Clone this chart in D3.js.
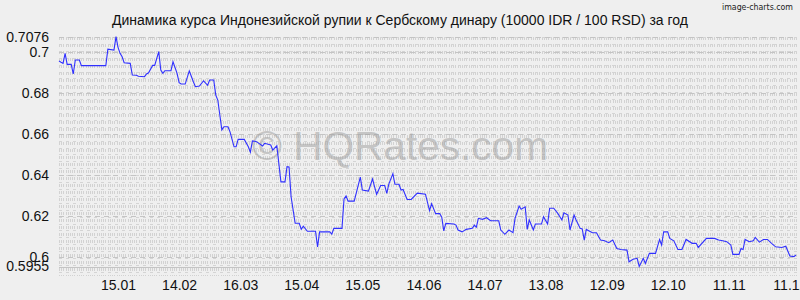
<!DOCTYPE html>
<html><head><meta charset="utf-8">
<script src="https://cdn.jsdelivr.net/npm/d3@7/dist/d3.min.js"></script>
<style>body{margin:0;background:#efefef;}svg{display:block;}</style>
</head><body>
<svg id="chart" width="800" height="300"></svg>
<script>
const titleText = "Динамика курса Индонезийской рупии к Сербскому динару (10000 IDR / 100 RSD) за год";
const startDate = new Date(2022, 11, 17);
const dayOffsets = [0,1,2,3,4,6,7,8,10,11,23,24,27,28,29,30,31,32,35,36,38,39,42,43,44,46,47,49,50,51,52,55,56,58,59,60,62,64,66,67,69,71,73,74,76,77,78,80,81,83,84,86,87,88,91,93,94,95,97,100,101,104,105,107,109,111,112,113,114,116,118,119,120,122,126,127,128,133,134,135,139,140,141,142,145,148,149,152,154,156,158,160,161,162,164,165,167,168,169,171,173,176,180,182,183,185,187,188,189,190,194,195,196,198,200,203,204,205,206,208,210,212,216,217,219,221,223,224,226,227,229,230,231,233,234,237,238,240,241,243,245,247,248,250,251,253,254,256,257,258,259,262,264,266,268,270,272,274,276,279,280,282,284,285,287,288,290,293,295,296,297,299,300,302,304,306,308,311,313,314,318,322,324,326,328,330,331,334,335,336,337,339,341,342,344,346,348,350,352,355,357,359,361,362];
const rates = [0.6957,0.6951,0.6946,0.6995,0.6941,0.6941,0.6894,0.6962,0.6962,0.6935,0.6935,0.7015,0.7011,0.7076,0.7024,0.6995,0.6978,0.6949,0.6946,0.6889,0.6888,0.6883,0.6881,0.6894,0.6900,0.6936,0.6936,0.7003,0.6913,0.6897,0.6910,0.6910,0.6954,0.6897,0.6852,0.6845,0.6845,0.6909,0.6856,0.6832,0.6835,0.6861,0.6839,0.6865,0.6865,0.6791,0.6767,0.6621,0.6637,0.6637,0.6612,0.6539,0.6539,0.6575,0.6575,0.6539,0.6513,0.6568,0.6564,0.6543,0.6556,0.6548,0.6523,0.6544,0.6368,0.6368,0.6442,0.6440,0.6295,0.6166,0.6166,0.6137,0.6152,0.6127,0.6127,0.6051,0.6124,0.6124,0.6113,0.6141,0.6141,0.6284,0.6299,0.6274,0.6274,0.6391,0.6328,0.6323,0.6382,0.6307,0.6350,0.6350,0.6312,0.6357,0.6408,0.6356,0.6356,0.6328,0.6331,0.6282,0.6282,0.6313,0.6308,0.6228,0.6262,0.6213,0.6213,0.6196,0.6129,0.6165,0.6162,0.6157,0.6133,0.6124,0.6136,0.6141,0.6157,0.6147,0.6190,0.6185,0.6193,0.6178,0.6178,0.6133,0.6112,0.6133,0.6120,0.6190,0.6250,0.6234,0.6246,0.6136,0.6182,0.6133,0.6162,0.6162,0.6198,0.6162,0.6239,0.6239,0.6214,0.6182,0.6217,0.6206,0.6133,0.6206,0.6182,0.6141,0.6138,0.6084,0.6136,0.6120,0.6120,0.6084,0.6081,0.6071,0.6084,0.6043,0.6038,0.6035,0.5978,0.5990,0.5995,0.5955,0.5995,0.5970,0.6019,0.6019,0.6087,0.6060,0.6124,0.6124,0.6092,0.6080,0.6038,0.6038,0.6087,0.6068,0.6068,0.6048,0.6092,0.6092,0.6084,0.6081,0.6076,0.6060,0.6014,0.6014,0.6043,0.6038,0.6087,0.6076,0.6081,0.6097,0.6074,0.6087,0.6087,0.6068,0.6051,0.6048,0.6054,0.6006,0.6003,0.6011];
const yTickValues = [0.7076, 0.7, 0.68, 0.66, 0.64, 0.62, 0.6, 0.5955];
const yTickLabels = ["0.7076", "0.7", "0.68", "0.66", "0.64", "0.62", "0.6", "0.5955"];
const xTickDates = ["2023-01-15","2023-02-14","2023-03-16","2023-04-15","2023-05-15","2023-06-14","2023-07-14","2023-08-13","2023-09-12","2023-10-12","2023-11-11","2023-12-11"];
const xTickLabels = ["15.01","14.02","16.03","15.04","15.05","14.06","14.07","13.08","12.09","12.10","11.11","11.12"];

const svg = d3.select("#chart");
const W = 800, H = 300;
const plotLeft = 59, plotRight = 797, plotTop = 37, gridBottom = 276;
svg.append("rect").attr("width", W).attr("height", H).attr("fill", "#efefef");

const x = d3.scaleTime()
  .domain([startDate, new Date(+startDate + 362.5 * 864e5)])
  .range([plotLeft, plotRight]);
const y = d3.scaleLinear().domain([0.5955, 0.7076]).range([266.5, 36.7]);

// grid
const g = svg.append("g");
const xStep = (plotRight - plotLeft) * 0.003;
d3.range(plotLeft, plotRight, xStep).forEach(px => {
  const xx = Math.round(px) + 0.5;
  g.append("line").attr("x1", xx).attr("x2", xx).attr("y1", plotTop).attr("y2", gridBottom)
    .attr("stroke", "#d2d2d2").attr("stroke-width", 1).attr("stroke-dasharray", "3,4");
});
const yStep = (gridBottom - plotTop) / 34.6;
d3.range(0, 35).forEach(k => {
  const yy = Math.round(plotTop + k * yStep) + 0.5;
  g.append("line").attr("x1", plotLeft).attr("x2", plotRight).attr("y1", yy).attr("y2", yy)
    .attr("stroke", "#d4d4d4").attr("stroke-width", 1).attr("stroke-dasharray", "3,4");
});
yTickValues.forEach((v, i) => {
  const yy = Math.round(y(v)) + 0.5;
  g.append("line").attr("x1", plotLeft).attr("x2", plotRight).attr("y1", yy).attr("y2", yy)
    .attr("stroke", "#c4c4c4").attr("stroke-width", 1)
    .attr("stroke-dasharray", i === yTickValues.length - 1 ? null : "5,4");
});

// watermark
svg.append("text").attr("x", 400).attr("y", 160).attr("text-anchor", "middle")
  .attr("font-family", "Liberation Sans, Arial, sans-serif").attr("font-size", 40)
  .attr("fill", "#a0a0a0").attr("fill-opacity", 0.55)
  .attr("textLength", 296).attr("lengthAdjust", "spacingAndGlyphs")
  .text("© HQRates.com");

// line
const data = dayOffsets.map((d, i) => ({date: d3.timeDay.offset(startDate, d), v: rates[i]}));
svg.append("path").datum(data)
  .attr("fill", "none").attr("stroke", "#3030ff").attr("stroke-width", 1.1)
  .attr("d", d3.line().x(d => x(d.date)).y(d => y(d.v)));

// y axis
const yAxis = d3.axisLeft(y).tickValues(yTickValues).tickSize(0).tickPadding(10)
  .tickFormat((d, i) => yTickLabels[i]);
const ya = svg.append("g").attr("transform", `translate(${plotLeft},0)`).call(yAxis);
ya.select(".domain").remove();
ya.selectAll("text").attr("font-family", "Liberation Sans, Arial, sans-serif")
  .attr("font-size", 14).attr("fill", "#111");

// x axis
const parse = d3.timeParse("%Y-%m-%d");
const xDates = xTickDates.map(parse);
const xAxis = d3.axisBottom(x).tickValues(xDates).tickSize(0).tickPadding(0)
  .tickFormat((d, i) => xTickLabels[i]);
const xa = svg.append("g").attr("transform", `translate(0,280)`).call(xAxis);
xa.select(".domain").remove();
xa.selectAll("text").attr("font-family", "Liberation Sans, Arial, sans-serif")
  .attr("font-size", 14).attr("fill", "#111").attr("dy", "0.71em");

// title
svg.append("text").attr("x", 400).attr("y", 25).attr("text-anchor", "middle")
  .attr("font-family", "Liberation Sans, Arial, sans-serif").attr("font-size", 14)
  .attr("fill", "#111").text(titleText);

svg.append("text").attr("x", 793).attr("y", 10).attr("text-anchor", "end")
  .attr("font-family", "DejaVu Sans Condensed, DejaVu Sans, sans-serif").attr("font-size", 9)
  .attr("fill", "#222").attr("textLength", 71).attr("lengthAdjust", "spacingAndGlyphs")
  .text("image-charts.com");
</script>
</body></html>
